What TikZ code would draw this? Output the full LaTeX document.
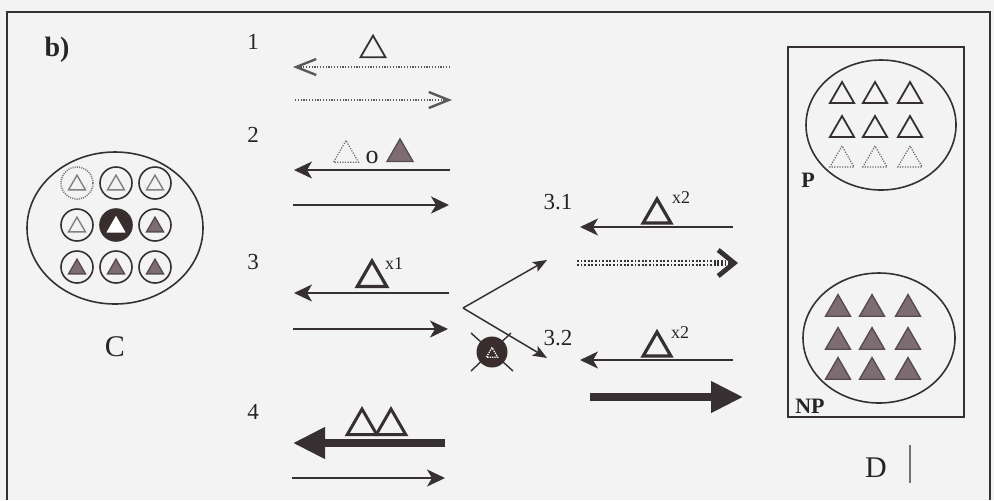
\documentclass[tikz,border=0pt]{standalone}
\usepackage{fontspec}
\setmainfont{Liberation Serif}
\usetikzlibrary{arrows.meta,shapes.geometric,calc}
\definecolor{linec}{RGB}{55,48,50}
\definecolor{mauve}{RGB}{125,108,114}
\definecolor{darkc}{RGB}{58,45,46}
\definecolor{paper}{RGB}{243,243,243}
\definecolor{txtc}{RGB}{40,36,38}
\begin{document}
\begin{tikzpicture}[x=0.5pt,y=-0.5pt,
  every node/.style={inner sep=0pt, text=txtc},
  lbl/.style={font=\fontsize{11.5}{13}\selectfont},
  biglbl/.style={font=\fontsize{15}{17}\selectfont},
  bld/.style={font=\fontsize{11}{13}\selectfont\bfseries},
  supx/.style={font=\fontsize{9}{10}\selectfont},
  tri/.style={regular polygon, regular polygon sides=3, inner sep=0pt, minimum size=#1, draw=linec, line width=0.7pt},
  tri/.default=14.4pt,
  ftri/.style={tri=#1, fill=mauve, draw=mauve!70!black},
  ftri/.default=14.4pt,
  dtri/.style={tri=#1, draw=black!60, dash pattern=on 0.6pt off 0.7pt, line width=0.6pt},
  dtri/.default=14.4pt,
  btri/.style={tri=#1, line width=1.6pt},
  btri/.default=17pt,
  sc/.style={circle, draw=linec, line width=0.8pt, minimum size=16pt, inner sep=0pt},
  bigell/.style={ellipse, draw=linec, line width=0.8pt, inner sep=0pt},
  ln/.style={draw=linec, line width=1pt},
  arr/.style={ln, -{Stealth[length=9pt,width=8.5pt,inset=2.5pt]}},
  thinarr/.style={draw=linec, line width=0.75pt, -{Stealth[length=7pt,width=5.5pt,inset=1.5pt]}},
  fatarr/.style={draw=linec, line width=3.6pt, -{Triangle[length=16pt,width=15pt]}},
  dotarr/.style={draw=black!65, line width=0.6pt, dash pattern=on 0.6pt off 0.8pt, -{Straight Barb[length=10pt,width=8pt,line width=1.2pt]}},
]
% background and bounding box
\fill[paper] (0,0) rectangle (994,500);
\useasboundingbox (0,0) rectangle (994,500);

% frame
\coordinate (fBL) at (7,500); \coordinate (fTL) at (7,12);
\coordinate (fTR) at (990,12); \coordinate (fBR) at (990,500);
\draw[linec, line width=1.1pt] (fBL) -- (fTL) -- (fTR) -- (fBR);

\node[font=\fontsize{14}{16}\selectfont\bfseries] (b) at (57,50) {b)};

% ---------- C ----------
\node[bigell, minimum width=88pt, minimum height=76pt] (Cc) at (115,228) {};
\node[sc, draw=black!55, dash pattern=on 0.5pt off 0.6pt] (c11) at (77,183) {};
\node[sc] (c12) at (116,183) {};
\node[sc] (c13) at (155,183) {};
\node[sc] (c21) at (77,225) {};
\node[sc, fill=darkc] (c22) at (116,225) {};
\node[sc] (c23) at (155,225) {};
\node[sc] (c31) at (77,267) {};
\node[sc] (c32) at (116,267) {};
\node[sc] (c33) at (155,267) {};
\node[tri=9.8pt, draw=black!50] (t11) at (77,185) {};
\node[tri=9.8pt, draw=black!50] (t12) at (116,185) {};
\node[tri=9.8pt, draw=black!50] (t13) at (155,185) {};
\node[tri=9.8pt, draw=black!50] (t21) at (77,227) {};
\node[tri=9.8pt, draw=white, fill=white] (t22) at (116,227) {};
\node[ftri=9.8pt] (t23) at (155,227) {};
\node[ftri=9.8pt] (t31) at (77,269) {};
\node[ftri=9.8pt] (t32) at (116,269) {};
\node[ftri=9.8pt] (t33) at (155,269) {};
\node[biglbl] (Clbl) at (115,347) {C};

% ---------- labels ----------
\node[lbl] (n1) at (253,42) {1};
\node[lbl] (n2) at (253,135) {2};
\node[lbl] (n3) at (253,262) {3};
\node[lbl] (n4) at (253,412) {4};
\node[lbl] (n31) at (558,202) {3.1};
\node[lbl] (n32) at (558,338) {3.2};

% ---------- 1 ----------
\node[tri=14.4pt, line width=0.9pt] (t1) at (373,50) {};
\coordinate (a1Ls) at (450,67); \coordinate (a1Le) at (293,67);
\coordinate (a1Rs) at (295,100); \coordinate (a1Re) at (452,100);
\draw[dotarr] (a1Ls) -- (a1Le);
\draw[dotarr] (a1Rs) -- (a1Re);

% ---------- 2 ----------
\node[dtri] (t2a) at (346,155) {};
\node[font=\fontsize{13}{15}\selectfont] (o2) at (372,157) {o};
\node[ftri=15pt] (t2b) at (400,154) {};
\coordinate (a2Ls) at (450,170); \coordinate (a2Le) at (294,170);
\coordinate (a2Rs) at (293,205); \coordinate (a2Re) at (449,205);
\draw[arr] (a2Ls) -- (a2Le);
\draw[arr] (a2Rs) -- (a2Re);

% ---------- 3 ----------
\node[btri=17pt] (t3) at (372,278) {};
\node[supx] (x1) at (394,264) {x1};
\coordinate (a3Ls) at (449,293); \coordinate (a3Le) at (294,293);
\coordinate (a3Rs) at (293,329); \coordinate (a3Re) at (448,329);
\draw[arr] (a3Ls) -- (a3Le);
\draw[arr] (a3Rs) -- (a3Re);

% branch
\coordinate (V) at (463,308);
\coordinate (U) at (547,260);
\coordinate (L) at (547,358);
\draw[linec, line width=0.7pt] ($(492,352)+(-21,-19)$) -- ($(492,352)+(21,19)$);
\draw[linec, line width=0.7pt] ($(492,352)+(19,-19)$) -- ($(492,352)+(-21,19)$);
\node[circle, fill=darkc, minimum size=15.5pt] (sym) at (492,352) {};
\node[tri=6.5pt, draw=white, line width=0.6pt, dash pattern=on 0.7pt off 0.5pt] (symt) at (492,354) {};
\draw[thinarr] (V) -- (U);
\draw[thinarr] (V) -- (L);

% ---------- 3.1 ----------
\node[btri=16pt] (t31x) at (657,215) {};
\node[supx] (x31) at (681,198) {x2};
\coordinate (a31Ls) at (733,227); \coordinate (a31Le) at (580,227);
\draw[arr] (a31Ls) -- (a31Le);
\coordinate (a31Rs) at (577,263); \coordinate (a31Re) at (738,263);
\draw[draw=linec, line width=2.6pt, dash pattern=on 0.9pt off 0.9pt,
      -{Straight Barb[length=8pt,width=13pt,line width=2.4pt]}] (a31Rs) -- (a31Re);
\draw[paper, line width=0.55pt, shorten >=12pt] (a31Rs) -- (a31Re);

% ---------- 3.2 ----------
\node[btri=16pt] (t32x) at (657,348) {};
\node[supx] (x32) at (680,333) {x2};
\coordinate (a32Ls) at (733,360); \coordinate (a32Le) at (580,360);
\draw[arr] (a32Ls) -- (a32Le);
\coordinate (a32Rs) at (590,397); \coordinate (a32Re) at (743,397);
\draw[fatarr] (a32Rs) -- (a32Re);

% ---------- 4 ----------
\node[btri=17pt, line width=1.5pt] (t4a) at (362,426) {};
\node[btri=17pt, line width=1.5pt] (t4b) at (391,426) {};
\coordinate (a4Ls) at (445,443); \coordinate (a4Le) at (293,443);
\draw[fatarr] (a4Ls) -- (a4Le);
\coordinate (a4Rs) at (292,478); \coordinate (a4Re) at (445,478);
\draw[arr] (a4Rs) -- (a4Re);

% ---------- D box ----------
\node[draw=linec, line width=0.8pt, minimum width=88pt, minimum height=185pt] (Dbox) at (876,232) {};
\node[bigell, minimum width=75pt, minimum height=65pt] (Pc) at (881,125) {};
\foreach \cx/\i in {842/1,875/2,910/3}{
  \node[tri=14pt, line width=0.9pt] (p1\i) at (\cx,96) {};
  \node[tri=14pt, line width=0.9pt] (p2\i) at (\cx,130) {};
  \node[dtri=14pt] (p3\i) at (\cx,160) {};
}
\node[bld] (Plbl) at (808,180) {P};
\node[bigell, minimum width=76pt, minimum height=65pt] (NPc) at (879,338) {};
\foreach \cx/\i in {838/1,872/2,908/3}{
  \node[ftri=14.4pt] (q1\i) at (\cx,309) {};
  \node[ftri=14.4pt] (q2\i) at (\cx,342) {};
  \node[ftri=14.4pt] (q3\i) at (\cx,372) {};
}
\node[bld] (NPlbl) at (810,406) {NP};
\node[biglbl] (Dlbl) at (876,468) {D};
\coordinate (Dl1) at (910,445); \coordinate (Dl2) at (910,483);
\draw[black!55, line width=0.6pt] (Dl1) -- (Dl2);
\end{tikzpicture}
\end{document}
